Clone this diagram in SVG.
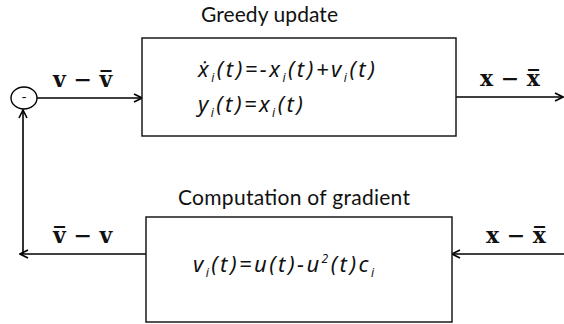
<svg xmlns="http://www.w3.org/2000/svg" width="564" height="324" viewBox="0 0 564 324">
<defs>
<marker id="arr" viewBox="0 0 10 10" refX="9" refY="5" markerWidth="10" markerHeight="10" markerUnits="userSpaceOnUse" orient="auto">
<path d="M1,1 L9,5 L1,9" fill="none" stroke="#000" stroke-width="1.6"/>
</marker>
<style>
.box{fill:#fff;stroke:#1a1a1a;stroke-width:1.5}
.ln{fill:none;stroke:#000;stroke-width:1.6;marker-end:url(#arr)}
.title{font-family:Lato,"Open Sans",sans-serif;font-size:21px;fill:#111}
.eq{font-family:"Noto Sans","DejaVu Sans",sans-serif;font-style:italic;font-size:22px;fill:#111}
.sub{font-size:12px}
.lbl{font-family:"DejaVu Serif",serif;font-weight:bold;font-size:22px;fill:#111}
</style>
</defs>
<rect width="564" height="324" fill="#fff"/>
<g id="connectors">
<line class="ln" x1="37" y1="98" x2="142" y2="98"/>
<line class="ln" x1="456" y1="97" x2="563" y2="97"/>
<line class="ln" x1="564" y1="254" x2="452" y2="254"/>
<line class="ln" x1="146" y1="254" x2="20" y2="254"/>
<line class="ln" x1="23" y1="254" x2="23" y2="110"/>
</g>
<g id="sum">
<ellipse cx="24" cy="98" rx="13" ry="11" fill="#fff" stroke="#000" stroke-width="1.4"/>
<text x="24" y="102" text-anchor="middle" font-family="Lato,sans-serif" font-size="14" fill="#000">-</text>
</g>
<g id="greedy">
<text class="title" x="201" y="22" textLength="137" lengthAdjust="spacing">Greedy update</text>
<rect class="box" x="142" y="38" width="314" height="98"/>
<text class="eq" x="198" y="77" textLength="177" lengthAdjust="spacing">ẋ<tspan class="sub" dy="5">i</tspan><tspan dy="-5">(t)=−x</tspan><tspan class="sub" dy="5">i</tspan><tspan dy="-5">(t)+v</tspan><tspan class="sub" dy="5">i</tspan><tspan dy="-5">(t)</tspan></text>
<text class="eq" x="198" y="112" textLength="105" lengthAdjust="spacing">y<tspan class="sub" dy="5">i</tspan><tspan dy="-5">(t)=x</tspan><tspan class="sub" dy="5">i</tspan><tspan dy="-5">(t)</tspan></text>
</g>
<g id="gradient">
<text class="title" x="178" y="205" textLength="232" lengthAdjust="spacing">Computation of gradient</text>
<rect class="box" x="146" y="217" width="306" height="105"/>
<text class="eq" x="193" y="272" textLength="181" lengthAdjust="spacing">v<tspan class="sub" dy="5">i</tspan><tspan dy="-5">(t)=u(t)−u</tspan><tspan class="sub" dy="-9">2</tspan><tspan dy="9">(t)c</tspan><tspan class="sub" dy="5">i</tspan></text>
</g>
<g id="labels">
<text class="lbl" x="53" y="87">v − v̅</text>
<text class="lbl" x="480" y="86">x − x̅</text>
<text class="lbl" x="53" y="243">v̅ − v</text>
<text class="lbl" x="486" y="243">x − x̅</text>
</g>
</svg>
